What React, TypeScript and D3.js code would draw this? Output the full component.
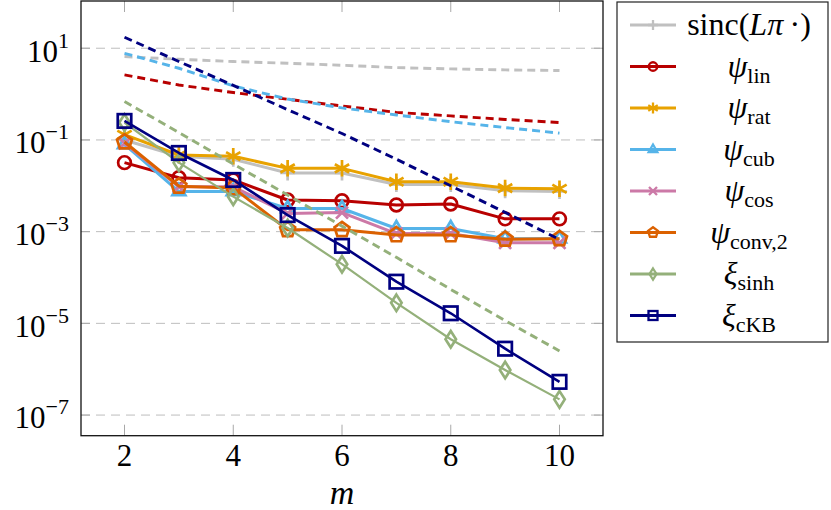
import React from 'react';
import * as d3 from 'd3';

// m values on the x axis
const ms = [2, 3, 4, 5, 6, 7, 8, 9, 10];

// measured errors (solid lines with marks)
const sincErr = [0.1, 0.044, 0.038, 0.019, 0.019, 0.0107, 0.0107, 0.0078, 0.0075];
const linErr = [0.032, 0.015, 0.0134, 0.0049, 0.0047, 0.0038, 0.004, 0.0019, 0.0019];
const ratErr = [0.13, 0.047, 0.044, 0.024, 0.024, 0.0123, 0.0123, 0.0089, 0.0086];
const cubErr = [0.08, 0.0075, 0.0075, 0.0032, 0.0032, 0.00117, 0.00117, 0.0007, 0.0007];
const cosErr = [0.085, 0.0095, 0.0095, 0.0025, 0.0026, 0.00091, 0.00091, 0.00057, 0.00057];
const convErr = [0.09, 0.0098, 0.009, 0.0011, 0.0011, 0.00085, 0.00085, 0.00068, 0.0007];
const sinhErr = [0.24, 0.032, 0.0058, 0.0012, 0.000195, 2.8e-5, 4.5e-6, 9.6e-7, 2.2e-7];
const ckbErr = [0.26, 0.052, 0.0134, 0.0023, 0.00049, 8.1e-5, 1.66e-5, 2.8e-6, 5.3e-7];

// error bounds (dashed lines)
const sincBound = [6.58, 5.75, 5.12, 4.71, 4.25, 3.78, 3.54, 3.37, 3.26];
const linBound = [2.62, 1.58, 1.08, 0.77, 0.55, 0.4, 0.334, 0.28, 0.24];
const cubBound = [7.76, 3.66, 1.51, 0.78, 0.5, 0.35, 0.25, 0.186, 0.141];
const ckbBound = [17.4, 5.13, 1.55, 0.457, 0.138, 0.038, 0.01, 0.00263, 0.000676];
const sinhBound = [0.69, 0.145, 0.03, 0.0063, 0.00132, 2.75e-4, 5.5e-5, 1.15e-5, 2.5e-6];

const xTicks = [2, 4, 6, 8, 10];
const yExps = [1, -1, -3, -5, -7];

type Mark = 'plus' | 'circle' | 'asterisk' | 'triangle' | 'cross' | 'pentagon' | 'diamond' | 'square';

interface Series {
  key: string;
  values: number[];
  color: string;
  width: number;
  mark: Mark;
  label: React.ReactNode;
}

const sub = (s: string) => (
  <tspan fontSize={22} dy={6}>{s}</tspan>
);

const series: Series[] = [
  { key: 'sinc', values: sincErr, color: '#c0c0c0', width: 3, mark: 'plus',
    label: <>sinc(<tspan fontStyle="italic">Lπ</tspan>{'\u2009·)'}</> },
  { key: 'lin', values: linErr, color: '#b80000', width: 3, mark: 'circle',
    label: <><tspan fontStyle="italic">ψ</tspan>{sub('lin')}</> },
  { key: 'rat', values: ratErr, color: '#e8a200', width: 3, mark: 'asterisk',
    label: <><tspan fontStyle="italic">ψ</tspan>{sub('rat')}</> },
  { key: 'cub', values: cubErr, color: '#56b4e9', width: 3, mark: 'triangle',
    label: <><tspan fontStyle="italic">ψ</tspan>{sub('cub')}</> },
  { key: 'cos', values: cosErr, color: '#cc79a7', width: 3, mark: 'cross',
    label: <><tspan fontStyle="italic">ψ</tspan>{sub('cos')}</> },
  { key: 'conv', values: convErr, color: '#db6100', width: 3, mark: 'pentagon',
    label: <><tspan fontStyle="italic">ψ</tspan>{sub('conv,2')}</> },
  { key: 'sinh', values: sinhErr, color: '#94b07a', width: 2.2, mark: 'diamond',
    label: <><tspan fontStyle="italic">ξ</tspan>{sub('sinh')}</> },
  { key: 'ckb', values: ckbErr, color: '#000080', width: 2.6, mark: 'square',
    label: <><tspan fontStyle="italic">ξ</tspan>{sub('cKB')}</> },
];

const bounds = [
  { key: 'sincB', values: sincBound, color: '#c0c0c0' },
  { key: 'linB', values: linBound, color: '#b80000' },
  { key: 'cubB', values: cubBound, color: '#56b4e9' },
  { key: 'sinhB', values: sinhBound, color: '#94b07a' },
  { key: 'ckbB', values: ckbBound, color: '#000080' },
];

const poly = (x: number, y: number, r: number, n: number, start: number) =>
  d3.range(n).map(i => {
    const a = start + (i * 2 * Math.PI) / n;
    return `${x + r * Math.cos(a)},${y + r * Math.sin(a)}`;
  }).join(' ');

function Marker({ type, x, y, s, color, sw }: { type: Mark; x: number; y: number; s: number; color: string; sw: number }) {
  const common = { stroke: color, strokeWidth: sw, fill: 'none' };
  switch (type) {
    case 'plus':
      return <path d={`M${x - s},${y}H${x + s}M${x},${y - s}V${y + s}`} {...common} />;
    case 'circle':
      return <circle cx={x} cy={y} r={s * 0.85} {...common} />;
    case 'asterisk': {
      const d = [90, 30, 150].map(deg => {
        const a = (deg * Math.PI) / 180;
        const dx = s * 1.1 * Math.cos(a), dy = s * 1.1 * Math.sin(a);
        return `M${x - dx},${y - dy}L${x + dx},${y + dy}`;
      }).join('');
      return <path d={d} {...common} />;
    }
    case 'triangle':
      return <polygon points={poly(x, y, s, 3, -Math.PI / 2)} {...common} />;
    case 'cross': {
      const k = s * 0.8;
      return <path d={`M${x - k},${y - k}L${x + k},${y + k}M${x - k},${y + k}L${x + k},${y - k}`} {...common} />;
    }
    case 'pentagon':
      return <polygon points={poly(x, y, s * 1.05, 5, -Math.PI / 2)} {...common} />;
    case 'diamond':
      return <polygon points={`${x},${y - s * 1.1} ${x + s * 0.7},${y} ${x},${y + s * 1.1} ${x - s * 0.7},${y}`} {...common} />;
    case 'square': {
      const k = s * 0.9;
      return <rect x={x - k} y={y - k} width={2 * k} height={2 * k} {...common} />;
    }
  }
}

const W = 831, H = 510;
const left = 81, right = 603, top = 1, bottom = 435.7;

export default function App() {
  const x = d3.scaleLinear().domain([1.2, 10.8]).range([left, right]);
  const y = d3.scaleLog().domain([Math.pow(10, -7.45), Math.pow(10, 2.03)]).range([bottom, top]);
  const line = d3.line<number>().x((_, i) => x(ms[i])).y(v => y(v));

  const font = '"Liberation Serif", "DejaVu Serif", serif';
  const legX = 617, legY = 2, legW = 211, legH = 340;

  return (
    <svg width={W} height={H} style={{ position: 'absolute', left: 0, top: 0, background: 'white' }}
      fontFamily={font}>
      {/* grid */}
      {yExps.map(e => (
        <line key={'g' + e} x1={left} x2={right} y1={y(Math.pow(10, e))} y2={y(Math.pow(10, e))}
          stroke="#bdbdbd" strokeWidth={1} strokeDasharray="9 6" />
      ))}
      {/* ticks */}
      {xTicks.map(t => (
        <g key={'xt' + t} stroke="#a8a8a8" strokeWidth={1}>
          <line x1={x(t)} x2={x(t)} y1={bottom} y2={bottom - 11} />
          <line x1={x(t)} x2={x(t)} y1={top} y2={top + 11} />
        </g>
      ))}
      {yExps.map(e => (
        <g key={'yt' + e} stroke="#a8a8a8" strokeWidth={1}>
          <line x1={left} x2={left + 9} y1={y(Math.pow(10, e))} y2={y(Math.pow(10, e))} />
          <line x1={right} x2={right - 9} y1={y(Math.pow(10, e))} y2={y(Math.pow(10, e))} />
        </g>
      ))}

      {/* measured series */}
      {series.map(s => (
        <g key={s.key}>
          <path d={line(s.values) || ''} fill="none" stroke={s.color} strokeWidth={s.width}
            strokeLinejoin="round" />
          {s.values.map((v, i) => (
            <Marker key={i} type={s.mark} x={x(ms[i])} y={y(v)} s={7.5} color={s.color} sw={2.7} />
          ))}
        </g>
      ))}

      {/* bounds */}
      {bounds.map(b => (
        <path key={b.key} d={line(b.values) || ''} fill="none" stroke={b.color} strokeWidth={2.9}
          strokeDasharray="8 5" />
      ))}

      {/* frame */}
      <rect x={left} y={top} width={right - left} height={bottom - top} fill="none" stroke="#111" strokeWidth={1.3} />

      {/* x tick labels */}
      {xTicks.map(t => (
        <text key={'xl' + t} x={x(t)} y={466} textAnchor="middle" fontSize={31}>{t}</text>
      ))}
      <text x={x(6)} y={504} textAnchor="middle" fontSize={34} fontStyle="italic">m</text>

      {/* y tick labels */}
      {yExps.map(e => (
        <text key={'yl' + e} x={69} y={y(Math.pow(10, e)) + 13.4} textAnchor="end" fontSize={31}>
          10<tspan fontSize={22} dy={-14}>{e < 0 ? '\u2212' + Math.abs(e) : e}</tspan>
        </text>
      ))}

      {/* legend */}
      <rect x={legX} y={legY} width={legW} height={legH} fill="white" stroke="#222" strokeWidth={1.2} />
      {series.map((s, i) => {
        const ry = 25 + i * 41.5;
        return (
          <g key={'leg' + s.key}>
            <line x1={630} x2={676} y1={ry} y2={ry} stroke={s.color} strokeWidth={3.2} />
            <Marker type={s.mark} x={653} y={ry} s={5} color={s.color} sw={2.3} />
            <text x={749} y={ry + 10} textAnchor="middle" fontSize={32}>{s.label}</text>
          </g>
        );
      })}
    </svg>
  );
}
